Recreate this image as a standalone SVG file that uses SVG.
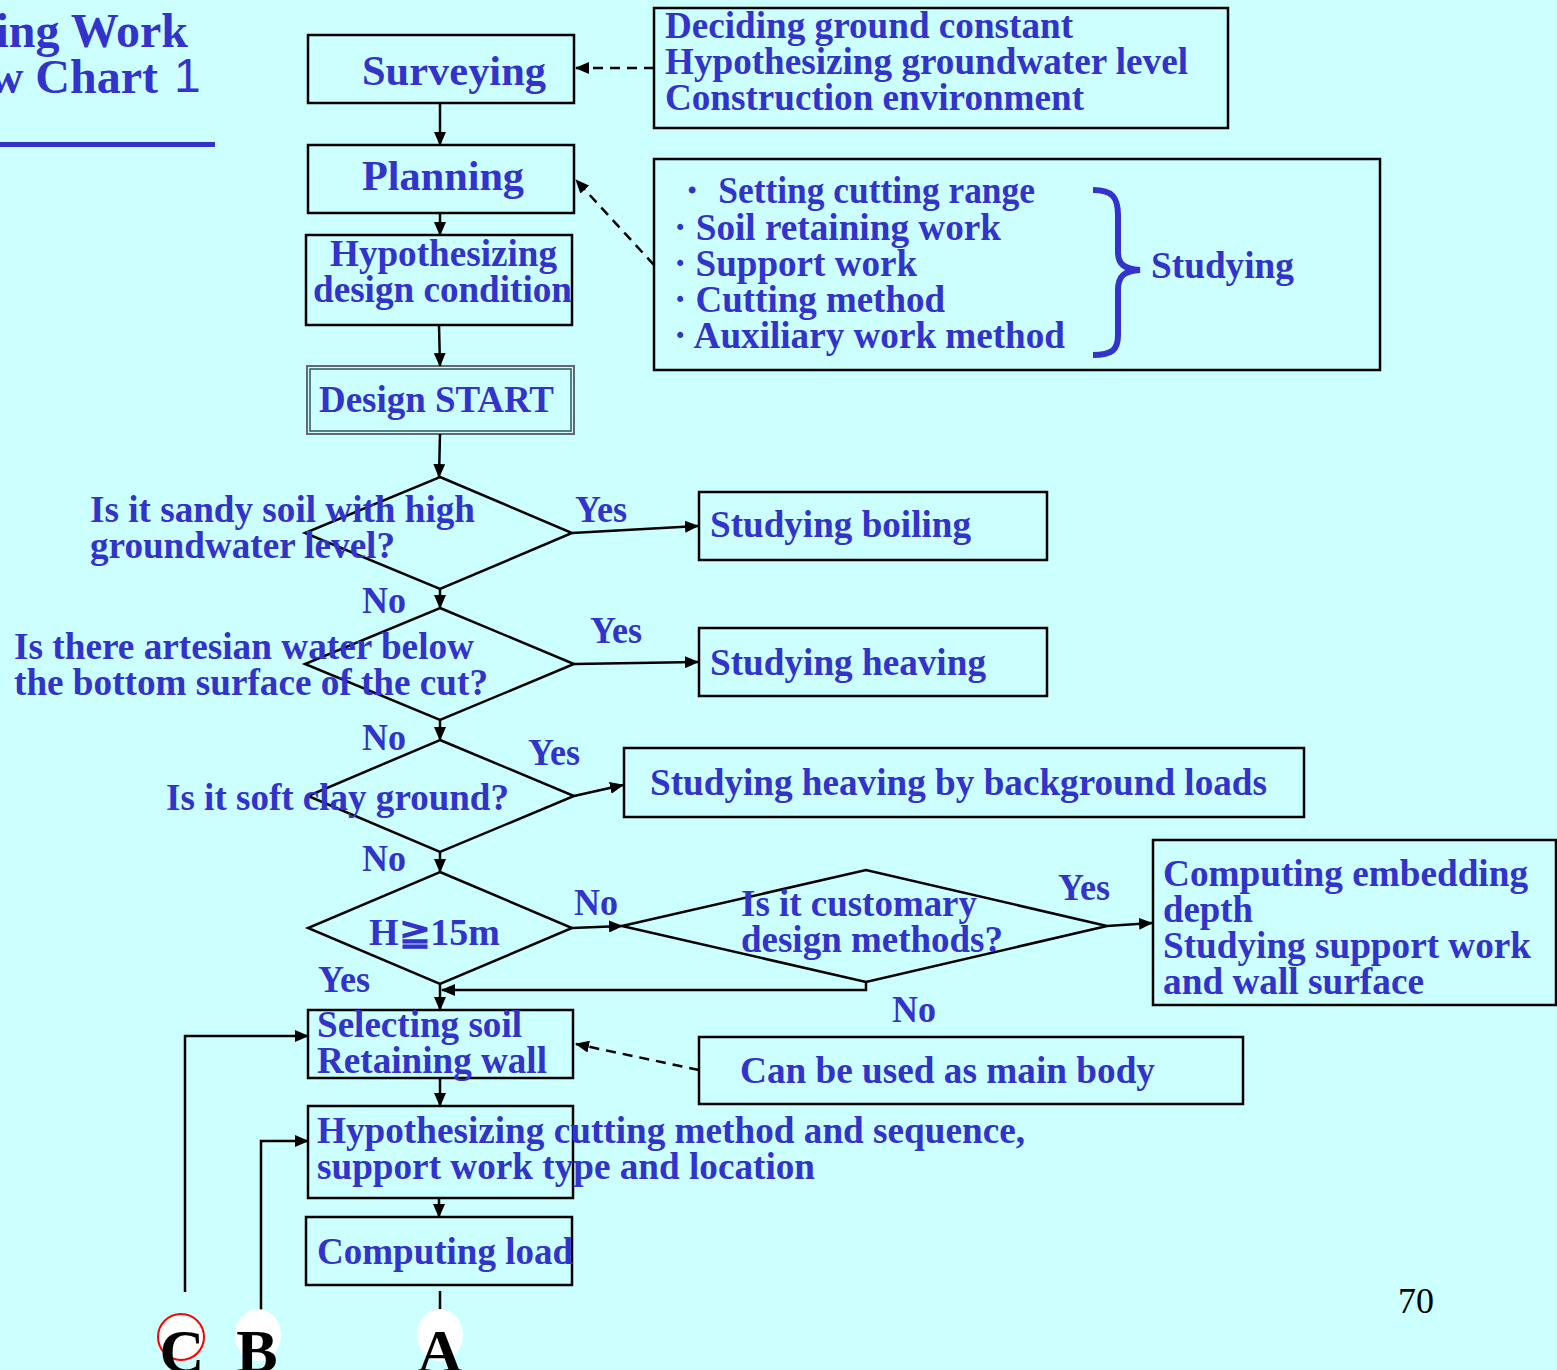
<svg xmlns="http://www.w3.org/2000/svg" width="1557" height="1370" viewBox="0 0 1557 1370">
<defs>
<marker id="ah" markerUnits="userSpaceOnUse" markerWidth="14" markerHeight="12" refX="13" refY="6" orient="auto">
<path d="M0,0 L14,6 L0,12 Z" fill="#000"/>
</marker>
<style>
.t{font-family:"Liberation Serif","Times New Roman",serif;font-weight:bold;fill:#3333CC;font-size:37px}
.h{font-size:42px}
.box{fill:none;stroke:#000;stroke-width:2.5}
.ln{fill:none;stroke:#000;stroke-width:2.5}
.ds{fill:none;stroke:#000;stroke-width:2.5;stroke-dasharray:10,7}
.lt{font-family:"Liberation Serif","Times New Roman",serif;font-weight:bold;fill:#000;font-size:62px;text-anchor:middle}
</style>
</defs>
<rect width="1557" height="1370" fill="#CCFFFF"/>

<g id="title">
<text class="t" x="188" y="47" text-anchor="end" style="font-size:48px">ing Work</text>
<text class="t" x="158" y="93" text-anchor="end" style="font-size:48px">w Chart</text>
<text x="174" y="92" style="font-family:'Liberation Sans',Arial,sans-serif;font-size:48px;fill:#3333CC">1</text>
<rect x="0" y="142" width="215" height="5" fill="#3333CC"/>
</g>

<g id="surveying">
<rect class="box" x="308" y="35" width="266" height="68"/>
<text class="t h" x="362" y="85" textLength="184" lengthAdjust="spacingAndGlyphs">Surveying</text>
</g>
<g id="planning">
<rect class="box" x="308" y="145" width="266" height="68"/>
<text class="t h" x="362" y="190" textLength="162" lengthAdjust="spacingAndGlyphs">Planning</text>
</g>
<g id="hyp-design">
<rect class="box" x="306" y="235" width="266" height="90"/>
<text class="t" x="330" y="266" textLength="227" lengthAdjust="spacingAndGlyphs">Hypothesizing</text>
<text class="t" x="313" y="302" textLength="259" lengthAdjust="spacingAndGlyphs">design condition</text>
</g>
<g id="design-start">
<rect x="307" y="366" width="267" height="68" fill="none" stroke="#667" stroke-width="2"/>
<rect x="310" y="369" width="261" height="62" fill="none" stroke="#335555" stroke-width="1.5"/>
<text class="t" x="319" y="412" textLength="235" lengthAdjust="spacingAndGlyphs">Design START</text>
</g>

<g id="deciding">
<rect class="box" x="654" y="8" width="574" height="120"/>
<text class="t" x="665" y="38" textLength="408" lengthAdjust="spacingAndGlyphs">Deciding ground constant</text>
<text class="t" x="665" y="74" textLength="523" lengthAdjust="spacingAndGlyphs">Hypothesizing groundwater level</text>
<text class="t" x="665" y="110" textLength="419" lengthAdjust="spacingAndGlyphs">Construction environment</text>
</g>

<g id="studying">
<rect class="box" x="654" y="159" width="726" height="211"/>
<text class="t" x="674" y="203" textLength="361" lengthAdjust="spacingAndGlyphs">・ Setting cutting range</text>
<text class="t" x="674" y="240" textLength="327" lengthAdjust="spacingAndGlyphs">· Soil retaining work</text>
<text class="t" x="674" y="276" textLength="243" lengthAdjust="spacingAndGlyphs">· Support work</text>
<text class="t" x="674" y="312" textLength="271" lengthAdjust="spacingAndGlyphs">· Cutting method</text>
<text class="t" x="674" y="348" textLength="391" lengthAdjust="spacingAndGlyphs">· Auxiliary work method</text>
<path d="M1093,190 C1112,190 1118,197 1118,215 L1118,252 C1118,264 1124,269 1140,270 C1124,271 1118,276 1118,290 L1118,335 C1118,350 1112,355 1093,355" fill="none" stroke="#3333CC" stroke-width="6"/>
<text class="t" x="1151" y="278" textLength="143" lengthAdjust="spacingAndGlyphs">Studying</text>
</g>

<g id="d1">
<polygon class="box" points="440,477 572,533 440,589 305,533"/>
<text class="t" x="90" y="522" textLength="385" lengthAdjust="spacingAndGlyphs">Is it sandy soil with high</text>
<text class="t" x="90" y="558" textLength="305" lengthAdjust="spacingAndGlyphs">groundwater level?</text>
</g>
<g id="boiling">
<rect class="box" x="699" y="492" width="348" height="68"/>
<text class="t" x="710" y="537" textLength="261" lengthAdjust="spacingAndGlyphs">Studying boiling</text>
</g>
<g id="d2">
<polygon class="box" points="440,608 574,664 440,720 305,664"/>
<text class="t" x="14" y="659" textLength="460" lengthAdjust="spacingAndGlyphs">Is there artesian water below</text>
<text class="t" x="14" y="695" textLength="474" lengthAdjust="spacingAndGlyphs">the bottom surface of the cut?</text>
</g>
<g id="heaving">
<rect class="box" x="699" y="628" width="348" height="68"/>
<text class="t" x="710" y="675" textLength="276" lengthAdjust="spacingAndGlyphs">Studying heaving</text>
</g>
<g id="d3">
<polygon class="box" points="440,740 574,796 440,852 308,796"/>
<text class="t" x="166" y="810" textLength="343" lengthAdjust="spacingAndGlyphs">Is it soft clay ground?</text>
</g>
<g id="heaving-bg">
<rect class="box" x="624" y="748" width="680" height="69"/>
<text class="t" x="650" y="795" textLength="617" lengthAdjust="spacingAndGlyphs">Studying heaving by background loads</text>
</g>
<g id="d4">
<polygon class="box" points="440,872 572,928 440,984 308,928"/>
<text class="t" x="369" y="945" textLength="131" lengthAdjust="spacingAndGlyphs">H≧15m</text>
</g>
<g id="d5">
<polygon class="box" points="622,926 866,870 1107,926 866,982"/>
<text class="t" x="741" y="916" textLength="236" lengthAdjust="spacingAndGlyphs">Is it customary</text>
<text class="t" x="741" y="952" textLength="262" lengthAdjust="spacingAndGlyphs">design methods?</text>
</g>
<g id="embedding">
<rect class="box" x="1153" y="840" width="403" height="165"/>
<text class="t" x="1163" y="886" textLength="365" lengthAdjust="spacingAndGlyphs">Computing embedding</text>
<text class="t" x="1163" y="922" textLength="90" lengthAdjust="spacingAndGlyphs">depth</text>
<text class="t" x="1163" y="958" textLength="368" lengthAdjust="spacingAndGlyphs">Studying support work</text>
<text class="t" x="1163" y="994" textLength="261" lengthAdjust="spacingAndGlyphs">and wall surface</text>
</g>
<g id="selecting">
<rect class="box" x="308" y="1010" width="265" height="68"/>
<text class="t" x="317" y="1037" textLength="205" lengthAdjust="spacingAndGlyphs">Selecting soil</text>
<text class="t" x="317" y="1073" textLength="230" lengthAdjust="spacingAndGlyphs">Retaining wall</text>
</g>
<g id="main-body">
<rect class="box" x="699" y="1037" width="544" height="67"/>
<text class="t" x="740" y="1083" textLength="415" lengthAdjust="spacingAndGlyphs">Can be used as main body</text>
</g>
<g id="hyp-cutting">
<rect class="box" x="308" y="1106" width="265" height="92"/>
<text class="t" x="317" y="1143" textLength="708" lengthAdjust="spacingAndGlyphs">Hypothesizing cutting method and sequence,</text>
<text class="t" x="317" y="1179" textLength="498" lengthAdjust="spacingAndGlyphs">support work type and location</text>
</g>
<g id="load">
<rect class="box" x="306" y="1217" width="266" height="68"/>
<text class="t" x="317" y="1264" textLength="256" lengthAdjust="spacingAndGlyphs">Computing load</text>
</g>

<g id="connectors">
<line class="ln" x1="440" y1="103" x2="440" y2="145" marker-end="url(#ah)"/>
<line class="ln" x1="440" y1="213" x2="440" y2="235" marker-end="url(#ah)"/>
<line class="ln" x1="439" y1="325" x2="440" y2="366" marker-end="url(#ah)"/>
<line class="ln" x1="440" y1="434" x2="439" y2="477" marker-end="url(#ah)"/>
<line class="ds" x1="654" y1="68" x2="576" y2="68" marker-end="url(#ah)"/>
<line class="ds" x1="654" y1="265" x2="576" y2="180" marker-end="url(#ah)"/>
<line class="ln" x1="572" y1="533" x2="698" y2="526" marker-end="url(#ah)"/>
<line class="ln" x1="440" y1="589" x2="440" y2="608" marker-end="url(#ah)"/>
<line class="ln" x1="574" y1="664" x2="698" y2="662" marker-end="url(#ah)"/>
<line class="ln" x1="440" y1="720" x2="440" y2="740" marker-end="url(#ah)"/>
<line class="ln" x1="574" y1="796" x2="623" y2="785" marker-end="url(#ah)"/>
<line class="ln" x1="440" y1="852" x2="440" y2="872" marker-end="url(#ah)"/>
<line class="ln" x1="572" y1="928" x2="622" y2="926" marker-end="url(#ah)"/>
<line class="ln" x1="1107" y1="926" x2="1152" y2="923" marker-end="url(#ah)"/>
<polyline class="ln" points="866,982 866,990 442,990" marker-end="url(#ah)"/>
<line class="ln" x1="440" y1="984" x2="440" y2="1010" marker-end="url(#ah)"/>
<line class="ds" x1="699" y1="1070" x2="576" y2="1044" marker-end="url(#ah)"/>
<line class="ln" x1="440" y1="1078" x2="440" y2="1106" marker-end="url(#ah)"/>
<line class="ln" x1="439" y1="1198" x2="439" y2="1217" marker-end="url(#ah)"/>
<polyline class="ln" points="185,1292 185,1036 308,1036" marker-end="url(#ah)"/>
<polyline class="ln" points="261,1310 261,1141 308,1141" marker-end="url(#ah)"/>
<line class="ln" x1="440" y1="1291" x2="440" y2="1310"/>
</g>

<g id="labels">
<text class="t" x="575" y="522" textLength="52" lengthAdjust="spacingAndGlyphs">Yes</text>
<text class="t" x="362" y="613" textLength="44" lengthAdjust="spacingAndGlyphs">No</text>
<text class="t" x="590" y="643" textLength="52" lengthAdjust="spacingAndGlyphs">Yes</text>
<text class="t" x="362" y="750" textLength="44" lengthAdjust="spacingAndGlyphs">No</text>
<text class="t" x="528" y="765" textLength="52" lengthAdjust="spacingAndGlyphs">Yes</text>
<text class="t" x="362" y="871" textLength="44" lengthAdjust="spacingAndGlyphs">No</text>
<text class="t" x="574" y="915" textLength="44" lengthAdjust="spacingAndGlyphs">No</text>
<text class="t" x="1058" y="900" textLength="52" lengthAdjust="spacingAndGlyphs">Yes</text>
<text class="t" x="892" y="1022" textLength="44" lengthAdjust="spacingAndGlyphs">No</text>
<text class="t" x="318" y="992" textLength="52" lengthAdjust="spacingAndGlyphs">Yes</text>
</g>

<g id="node-C">
<circle cx="181" cy="1337" r="23" fill="#fff" stroke="#ff0000" stroke-width="2"/>
<text class="lt" x="182" y="1372">C</text>
</g>
<g id="node-B">
<ellipse cx="258" cy="1335" rx="23" ry="26" fill="#fff"/>
<text class="lt" x="257" y="1372">B</text>
</g>
<g id="node-A">
<ellipse cx="440" cy="1335" rx="23" ry="26" fill="#fff"/>
<text class="lt" x="440" y="1372">A</text>
</g>

<text x="1398" y="1313" style="font-family:'Liberation Serif','Times New Roman',serif;font-size:36px;fill:#000">70</text>
</svg>
